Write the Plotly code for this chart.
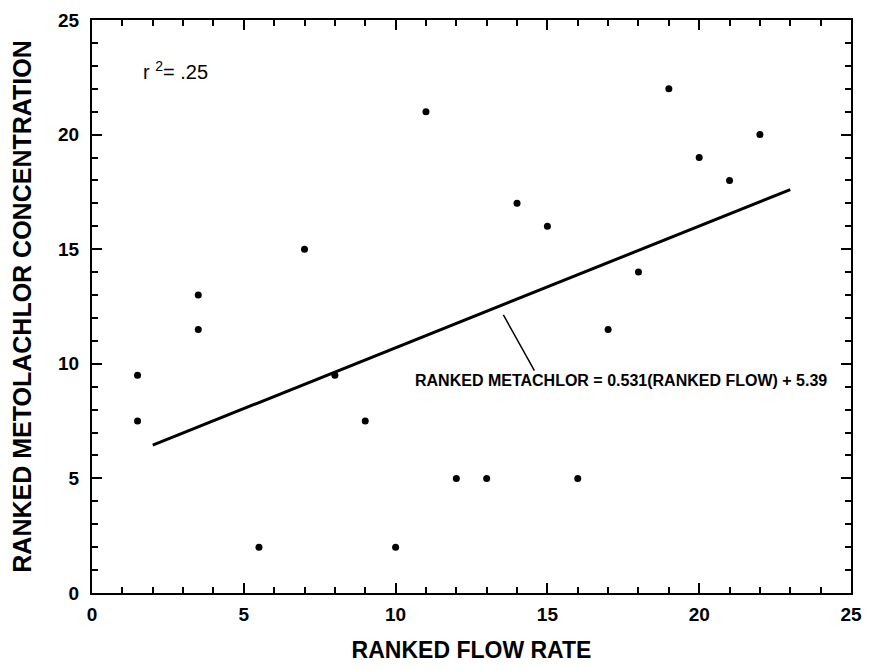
import plotly.graph_objects as go

flow_rank = [1.5, 1.5, 3.5, 3.5, 5.5, 7, 8, 9, 10, 11, 12, 13, 14, 15, 16, 17, 18, 19, 20, 21, 22]
metolachlor_rank = [9.5, 7.5, 13, 11.5, 2, 15, 9.5, 7.5, 2, 21, 5, 5, 17, 16, 5, 11.5, 14, 22, 19, 18, 20]
slope = 0.531
intercept = 5.39
line_x = [2, 23]
line_y = [slope * v + intercept for v in line_x]

font_family = "Liberation Sans, Arial, Helvetica, sans-serif"

fig = go.Figure()
fig.add_trace(go.Scatter(x=flow_rank, y=metolachlor_rank, mode="markers",
                         marker=dict(color="black", size=7), showlegend=False))
fig.add_trace(go.Scatter(x=line_x, y=line_y, mode="lines",
                         line=dict(color="black", width=3), showlegend=False))

axis_common = dict(
    showgrid=False, zeroline=False, showline=True, linecolor="black", linewidth=2,
    mirror="allticks", ticks="inside", ticklen=10, tickwidth=1.5, tickcolor="black",
    range=[0, 25], dtick=5, tick0=0, automargin=False,
    tickfont=dict(family=font_family, size=19, color="black", weight="bold"),
    minor=dict(dtick=1, ticks="inside", ticklen=6, tickwidth=1.5, tickcolor="black"),
)

fig.update_layout(
    width=877, height=670,
    margin=dict(l=84, r=34, t=12, b=85),
    paper_bgcolor="white", plot_bgcolor="white",
    font=dict(family=font_family, color="black"),
    xaxis=dict(**axis_common, ticklabelstandoff=3,
               title=dict(text="RANKED FLOW RATE", font=dict(size=23, weight="bold"), standoff=18)),
    yaxis=dict(**axis_common, ticklabelstandoff=7,
               title=dict(text="RANKED METOLACHLOR CONCENTRATION",
                          font=dict(size=25, weight="bold"), standoff=23)),
)

fig.add_annotation(x=13.55, y=12.13, ax=14.6, ay=9.64,
                   xref="x", yref="y", axref="x", ayref="y",
                   text="", showarrow=True, arrowhead=0, arrowwidth=1.5, arrowcolor="black",
                   standoff=0, startstandoff=0)
fig.add_annotation(x=17.43, y=9.25, xref="x", yref="y", showarrow=False,
                   text="RANKED METACHLOR = 0.531(RANKED FLOW) + 5.39",
                   font=dict(family=font_family, size=16, color="black", weight="bold"))
fig.add_annotation(x=1.6, y=22.8, xref="x", yref="y", showarrow=False, xanchor="left",
                   text="r <sup>2</sup>= .25",
                   font=dict(family=font_family, size=20, color="black"))

fig.write_html("out.html")
